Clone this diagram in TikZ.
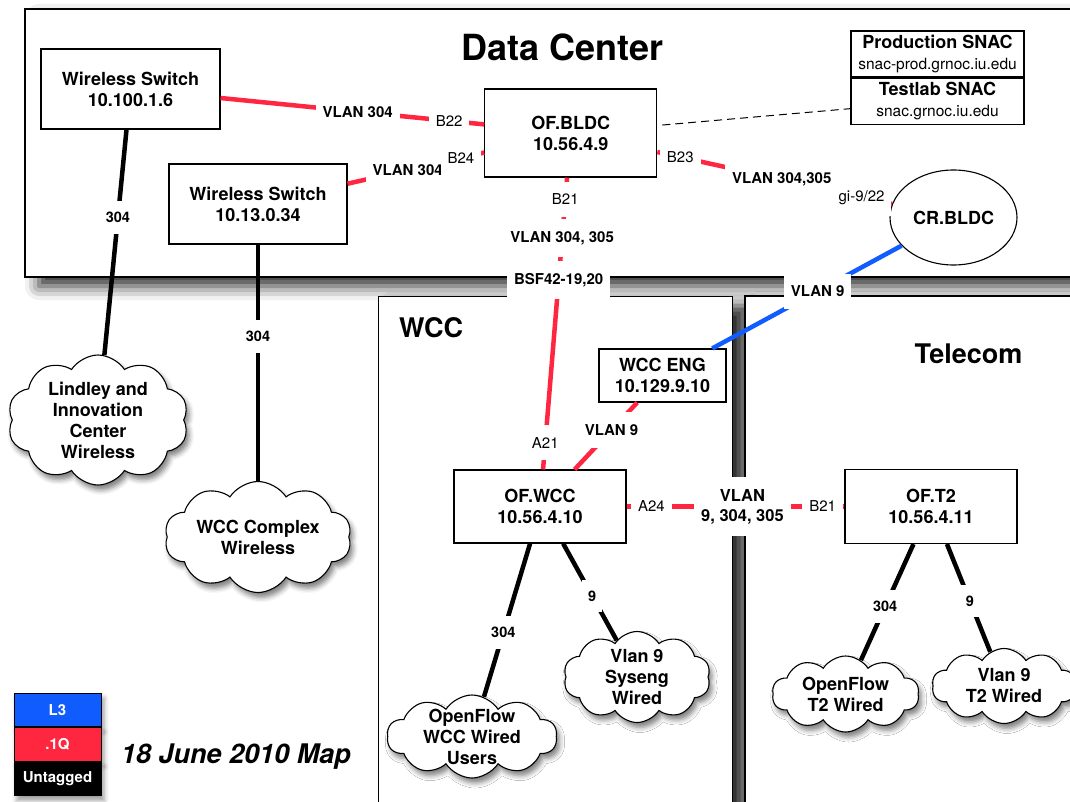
\documentclass[tikz,border=0pt]{standalone}
\usepackage{fontspec}
\setmainfont{TeX Gyre Heros}
\usepackage{tikz}
\usetikzlibrary{shapes.geometric}
\usetikzlibrary{shapes.symbols}
\usetikzlibrary{shadows.blur}
\usetikzlibrary{positioning}
\definecolor{vlanred}{RGB}{255,38,64}
\definecolor{l3blue}{RGB}{16,92,255}
\tikzset{
area_box/.style={rectangle, draw, line width=1.3pt, fill=white, blur shadow={shadow xshift=14pt, shadow yshift=-9pt, shadow blur radius=14pt, shadow opacity=85}},
area_title/.style={font=\bfseries\fontsize{27}{30}\selectfont},
switch_box/.style={rectangle, draw, line width=1.1pt, fill=white, align=center, inner sep=0pt, font=\bfseries\fontsize{18}{21}\selectfont},
snac_box/.style={switch_box, minimum width=173pt, minimum height=46pt},
router/.style={ellipse, draw, line width=1.1pt, fill=white, minimum width=127pt, minimum height=95pt, font=\bfseries\fontsize{18}{21}\selectfont},
site_cloud/.style={cloud, cloud puffs=10, cloud puff arc=115, cloud ignores aspect, draw, line width=1.1pt, fill=white, inner sep=0pt, blur shadow={shadow xshift=3pt, shadow yshift=-5pt, shadow blur radius=5pt, shadow opacity=50}},
cloud_text/.style={align=center, font=\bfseries\fontsize{18}{21}\selectfont},
tagged_link/.style={vlanred, line width=4.5pt},
routed_link/.style={l3blue, line width=4.5pt},
untagged_link/.style={black, line width=4.5pt},
mgmt_link/.style={black, line width=1pt, dash pattern=on 8pt off 5pt},
vlan_label/.style={fill=white, text=black, inner xsep=7pt, inner ysep=12pt, align=center, font=\bfseries\fontsize{15}{19}\selectfont},
port_label/.style={fill=white, text=black, inner xsep=7pt, inner ysep=12pt, font=\fontsize{15}{18}\selectfont},
untag_label/.style={fill=white, text=black, inner xsep=6pt, inner ysep=11pt, font=\bfseries\fontsize{14.5}{17}\selectfont},
legend_key/.style={rectangle, draw, line width=1pt, minimum width=87pt, minimum height=33.5pt, inner sep=0pt, text=white, font=\bfseries\fontsize{15}{18}\selectfont, blur shadow={shadow xshift=3pt, shadow yshift=-5pt, shadow blur radius=5pt}},
date_text/.style={font=\bfseries\itshape\fontsize{27}{30}\selectfont}
}

\begin{document}
\begin{tikzpicture}[x=1pt, y=-1pt]
    \useasboundingbox (0,0) rectangle (1070,802);
    \clip (0,0) rectangle (1070,802);

    % buildings
    \node[area_box, minimum width=1065pt, minimum height=268pt] (dc_area) at (557.5,143) {};
    \node[area_box, minimum width=354pt, minimum height=520pt] (wcc_area) at (555.5,556.5) {};
    \node[area_box, minimum width=345pt, minimum height=520pt] (t2_area) at (917.5,556) {};
    \node[area_title, font=\bfseries\fontsize{36}{40}\selectfont] (dc_title) at (562.5,47) {Data Center};
    \node[area_title] (wcc_title) at (431,328) {WCC};
    \node[area_title] (t2_title) at (968.5,354) {Telecom};

    % switches and routers
    \node[switch_box, minimum width=179pt, minimum height=80pt] (ws_1) at (130.5,89) {Wireless Switch\\10.100.1.6};
    \node[switch_box, minimum width=178pt, minimum height=80pt] (ws_2) at (258,204) {Wireless Switch\\10.13.0.34};
    \node[switch_box, minimum width=172pt, minimum height=88pt] (of_bldc) at (570.75,133) {OF.BLDC\\10.56.4.9};
    \node[snac_box] (snac_prod) at (937.5,54) {Production SNAC\\{\mdseries\fontsize{15.5}{21}\selectfont snac-prod.grnoc.iu.edu}};
    \node[snac_box, below=0 of snac_prod] (snac_test) {Testlab SNAC\\{\mdseries\fontsize{15.5}{21}\selectfont snac.grnoc.iu.edu}};
    \node[router] (cr_bldc) at (953.5,217.5) {CR.BLDC};
    \node[switch_box, minimum width=127pt, minimum height=53pt] (wcc_eng) at (662.5,375.5) {WCC ENG\\10.129.9.10};
    \node[switch_box, minimum width=172pt, minimum height=73pt] (of_wcc) at (540,506.5) {OF.WCC\\10.56.4.10};
    \node[switch_box, minimum width=172pt, minimum height=74pt] (of_t2) at (931,506.5) {OF.T2\\10.56.4.11};

    % user networks
    \node[site_cloud, minimum width=181pt, minimum height=130pt, label={[cloud_text]center:Lindley and\\Innovation\\Center\\Wireless}] (lindley_cloud) at (98,420) {};
    \node[site_cloud, minimum width=187pt, minimum height=111pt, label={[cloud_text]center:WCC Complex\\Wireless}] (wcc_complex_cloud) at (258,537) {};
    \node[site_cloud, minimum width=170pt, minimum height=83pt, label={[cloud_text]center:OpenFlow\\WCC Wired\\Users}] (wcc_users_cloud) at (472,736.5) {};
    \node[site_cloud, minimum width=147pt, minimum height=91pt, label={[cloud_text]center:Vlan 9\\Syseng\\Wired}] (syseng_cloud) at (637,677) {};
    \node[site_cloud, minimum width=147pt, minimum height=76pt, label={[cloud_text]center:OpenFlow\\T2 Wired}] (t2_openflow_cloud) at (845.6,694) {};
    \node[site_cloud, minimum width=144pt, minimum height=75pt, label={[cloud_text]center:Vlan 9\\T2 Wired}] (t2_vlan9_cloud) at (1004,686) {};

    % legend
    \node[legend_key, fill=l3blue] (l3_key) at (57.5,709.75) {L3};
    \node[legend_key, fill=vlanred, below=0 of l3_key] (dot1q_key) {.1Q};
    \node[legend_key, fill=black, below=0 of dot1q_key] (untagged_key) {Untagged};
    \node[date_text] (map_date) at (236,757) {18 June 2010 Map};

    % links
    \draw[tagged_link] (ws_1) -- (of_bldc) node[vlan_label, pos=0.52] {VLAN 304} node[port_label, pos=0.867] {B22};
    \draw[tagged_link] (ws_2) -- (of_bldc) node[vlan_label, pos=0.44] {VLAN 304} node[port_label, pos=0.83] {B24};
    \draw[tagged_link] (of_bldc) -- (cr_bldc) node[port_label, pos=0.098] {B23} node[vlan_label, pos=0.53] {VLAN 304,305} node[port_label, pos=0.87] {gi-9/22};
    \draw[tagged_link] (of_bldc) -- (of_wcc) node[port_label, pos=0.075] {B21} node[vlan_label, pos=0.208] {VLAN 304, 305} node[vlan_label, pos=0.352] {BSF42-19,20} node[port_label, pos=0.908] {A21};
    \draw[routed_link] (cr_bldc) -- (wcc_eng) node[vlan_label, pos=0.443] {VLAN 9};
    \draw[tagged_link] (wcc_eng) -- (of_wcc) node[vlan_label, pos=0.41] {VLAN 9};
    \draw[tagged_link] (of_wcc) -- (of_t2) node[port_label, pos=0.114] {A24} node[vlan_label, font=\bfseries\fontsize{16.5}{20}\selectfont, pos=0.532] {VLAN\\9, 304, 305} node[port_label, pos=0.9] {B21};
    \draw[mgmt_link, shorten <=5pt] (of_bldc) -- (snac_test);
    \draw[untagged_link] (ws_1) -- (lindley_cloud) node[untag_label, pos=0.39] {304};
    \draw[untagged_link] (ws_2) -- (wcc_complex_cloud) node[untag_label, pos=0.39] {304};
    \draw[untagged_link] (of_wcc.255) -- (wcc_users_cloud) node[untag_label, pos=0.58] {304};
    \draw[untagged_link] (of_wcc.302) -- (syseng_cloud) node[untag_label, pos=0.54] {9};
    \draw[untagged_link] (of_t2.245) -- (t2_openflow_cloud) node[untag_label, pos=0.54] {304};
    \draw[untagged_link] (of_t2.293) -- (t2_vlan9_cloud) node[untag_label, pos=0.53] {9};
\end{tikzpicture}
\end{document}
